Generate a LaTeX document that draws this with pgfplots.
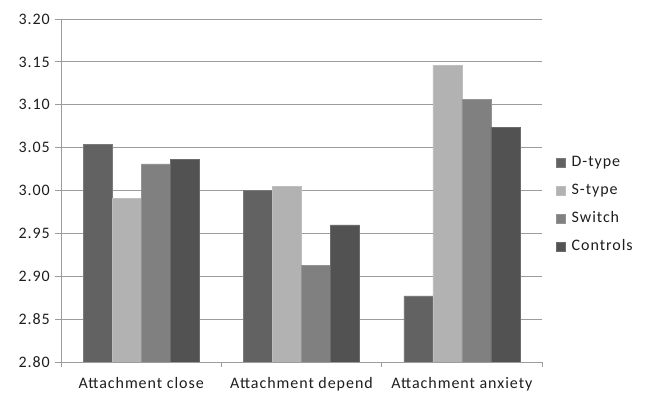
\documentclass[border=0pt]{standalone}
\usepackage{fontspec}
\setmainfont[LetterSpace=6]{Carlito}
\usepackage{pgfplots}
\pgfplotsset{compat=1.18}
\definecolor{cD}{HTML}{626262}
\definecolor{cS}{HTML}{B2B2B2}
\definecolor{cW}{HTML}{808080}
\definecolor{cC}{HTML}{525252}
\definecolor{axgray}{HTML}{9C9C9C}
\definecolor{txt}{HTML}{1E1E1E}
\begin{document}
\begin{tikzpicture}[x=1pt,y=1pt]
\useasboundingbox (0,0) rectangle (646,394);
\begin{axis}[
  at={(61pt,32pt)}, anchor=south west,
  scale only axis, width=481pt, height=343pt,
  ybar=0pt, bar width=0.1807,
  xmin=-0.5, xmax=2.5, ymin=2.8, ymax=3.2,
  axis x line*=bottom, axis y line*=left,
  axis line style={draw=axgray, line width=0.9pt, -},
  ytick={2.80,2.85,2.90,2.95,3.00,3.05,3.10,3.15,3.20},
  yticklabels={2.80,2.85,2.90,2.95,3.00,3.05,3.10,3.15,3.20},
  y tick label style={anchor=east, inner xsep=0pt, xshift=-5pt},
  ymajorgrids, grid style={draw=axgray, line width=0.9pt},
  xtick={0,1,2},
  xticklabels={Attachment close, Attachment depend, Attachment anxiety},
  xticklabel style={yshift=-6pt},
  major x tick style={draw=none},
  minor xtick={-0.5,0.5,1.5,2.5},
  tick align=outside, major tick length=6pt, minor tick length=5pt,
  tick style={draw=axgray, line width=0.9pt},
  ticklabel style={font=\fontsize{16}{19}\selectfont, text=txt},
  legend style={at={(1,0.458)}, anchor=west, xshift=11pt, draw=none, fill=none,
    font=\fontsize{16}{19}\selectfont, text=txt, row sep=14pt,
    nodes={inner sep=0pt, text height=11pt, text depth=3pt}},
  legend cell align=left,
  legend image code/.code={\fill[#1] (0pt,-4.5pt) rectangle (9pt,4.5pt); \path (15pt,0pt);},
]
\addplot[fill=cD, draw=cD!85!white, line width=0.5pt] coordinates {(0,3.054) (1,3.000) (2,2.877)};
\addplot[fill=cS, draw=cS!85!white, line width=0.5pt] coordinates {(0,2.991) (1,3.005) (2,3.146)};
\addplot[fill=cW, draw=cW!85!white, line width=0.5pt] coordinates {(0,3.031) (1,2.913) (2,3.106)};
\addplot[fill=cC, draw=cC!85!white, line width=0.5pt] coordinates {(0,3.036) (1,2.960) (2,3.074)};
\legend{D-type, S-type, Switch, Controls}
\end{axis}
\end{tikzpicture}
\end{document}
